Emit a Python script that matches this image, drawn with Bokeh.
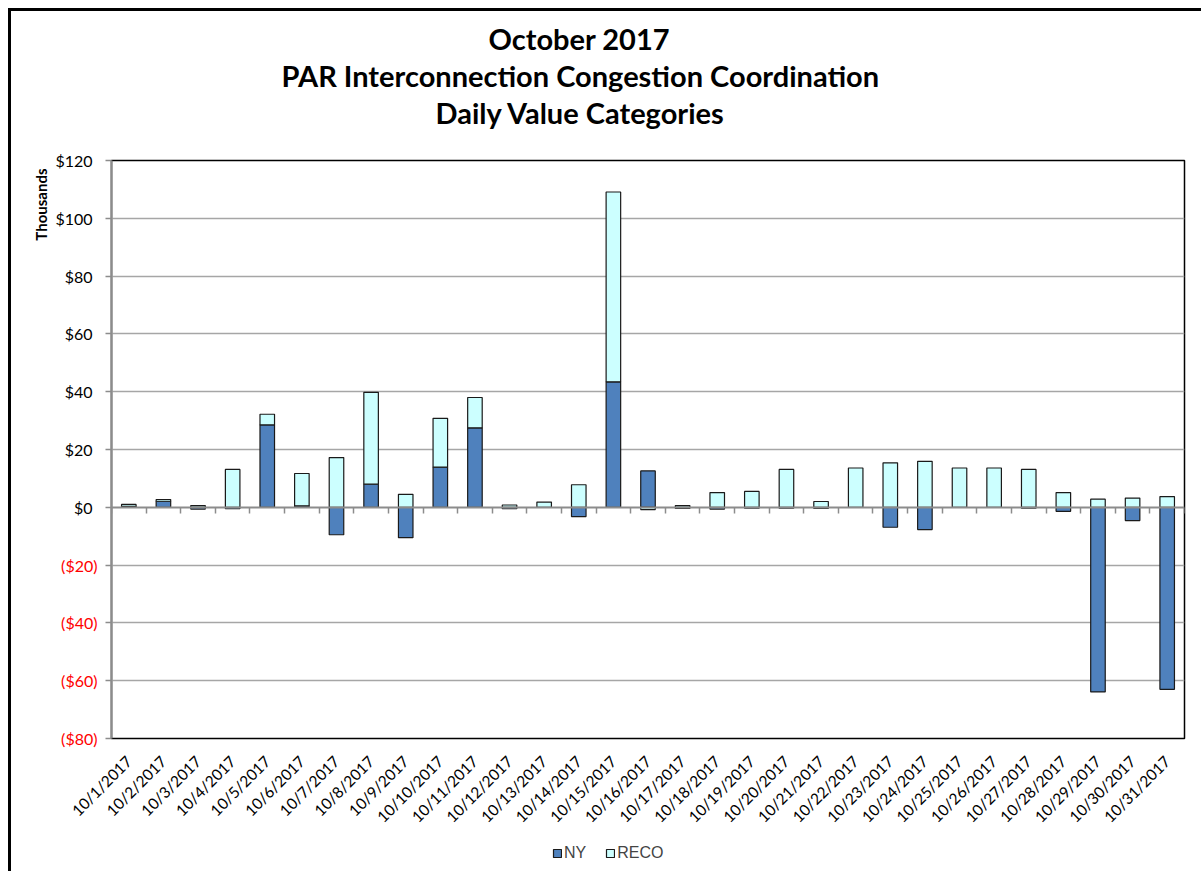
from math import pi
from bokeh.plotting import figure
from bokeh.layouts import column
from bokeh.models import (Range1d, LinearAxis, FixedTicker, Grid, Title,
                          ColumnDataSource, Legend, LegendItem)
from bokeh.embed import file_html
from bokeh.resources import INLINE

dates = ["10/%d/2017" % d for d in range(1, 32)]
ny = [0.3, 2.1, -0.6, -0.5, 28.5, 0.5, -9.5, 8.0, -10.5, 13.9, 27.5, -0.5, 0.0, -3.2,
      43.4, 12.6, -0.4, -0.6, -0.3, -0.3, -0.4, 0.0, -6.9, -7.7, 0.0, 0.0, -0.3, -1.4,
      -63.9, -4.6, -63.0]
reco = [0.7, 0.6, 0.6, 13.1, 3.7, 11.2, 17.2, 31.8, 4.5, 16.9, 10.5, 0.8, 1.8, 7.8,
        65.7, -0.8, 0.6, 5.1, 5.5, 13.1, 2.0, 13.6, 15.4, 15.9, 13.6, 13.6, 13.1, 5.1,
        2.8, 3.2, 3.7]
y_ticks = [-80, -60, -40, -20, 0, 20, 40, 60, 80, 100, 120]
title_lines = ["October 2017", "PAR Interconnection Congestion Coordination",
               "Daily Value Categories"]
series_names = ["NY", "RECO"]
series_colors = ["#4F81BD", "#CCFFFF"]

xs = list(range(1, len(dates) + 1))
ny_bottom = [min(v, 0) for v in ny]
ny_top = [max(v, 0) for v in ny]
reco_bottom, reco_top = [], []
for n, r in zip(ny, reco):
    if r >= 0:
        b = max(n, 0)
        reco_bottom.append(b); reco_top.append(b + r)
    else:
        t = min(n, 0)
        reco_bottom.append(t + r); reco_top.append(t)

src = ColumnDataSource(dict(x=xs, nyb=ny_bottom, nyt=ny_top, rb=reco_bottom, rt=reco_top))

p = figure(width=1190, height=827, output_backend="svg", toolbar_location=None,
           x_range=Range1d(0.5, len(dates) + 0.5), y_range=Range1d(-80, 120),
           x_axis_location=None, y_axis_location=None,
           min_border_left=100, min_border_top=149, min_border_right=17, min_border_bottom=100)
p.background_fill_color = "white"
p.border_fill_color = "white"
p.outline_line_color = "black"
p.outline_line_width = 1.5
for g in p.grid:
    g.grid_line_color = None
p.title.text = ""

GRAY = "#8c8c8c"
grid = Grid(dimension=1, ticker=FixedTicker(ticks=[t for t in y_ticks if t not in (0, -80, 120)]),
            grid_line_color="#a6a6a6", grid_line_width=1.5)
p.add_layout(grid, "center")

# bars
r_ny = p.vbar(x="x", bottom="nyb", top="nyt", width=0.42, source=src,
              fill_color=series_colors[0], line_color="#1a1a1a", line_width=1.2)
r_reco = p.vbar(x="x", bottom="rb", top="rt", width=0.42, source=src,
                fill_color=series_colors[1], line_color="#1a1a1a", line_width=1.2)

# bottom labels axis
xlab = LinearAxis(ticker=FixedTicker(ticks=xs),
                  major_label_overrides={x: d for x, d in zip(xs, dates)},
                  major_tick_line_color=None, axis_line_color=None,
                  major_label_orientation=pi / 4,
                  major_label_text_font="Lato", major_label_text_font_size="15.5px",
                  major_label_text_color="black", major_label_standoff=14,
                  minor_tick_line_color=None)
p.add_layout(xlab, "below")

# zero axis with category boundary ticks
zero_ax = LinearAxis(fixed_location=0,
                     ticker=FixedTicker(ticks=[], minor_ticks=[x + 0.5 for x in [0] + xs]),
                     axis_line_color=GRAY, axis_line_width=2,
                     minor_tick_line_color=GRAY, minor_tick_line_width=1.5,
                     minor_tick_out=6, minor_tick_in=0,
                     major_tick_line_color=None, major_label_text_font_size="0px")
p.add_layout(zero_ax, "below")

def fmt(v):
    return "$%d" % v if v >= 0 else "($%d)" % (-v)

# inner left axis: positive labels in black
yax = LinearAxis(ticker=FixedTicker(ticks=y_ticks),
                 major_label_overrides={v: (fmt(v) if v >= 0 else "") for v in y_ticks},
                 axis_line_color=GRAY, axis_line_width=2,
                 major_tick_line_color=GRAY, major_tick_line_width=1.5,
                 major_tick_out=6, major_tick_in=0, minor_tick_line_color=None,
                 major_label_text_font="Lato", major_label_text_font_size="16px",
                 major_label_text_color="black", major_label_standoff=13)
p.add_layout(yax, "left")

# outer left axis: negative labels in red, pulled back under the inner axis labels
yneg = LinearAxis(ticker=FixedTicker(ticks=y_ticks),
                  major_label_overrides={v: (fmt(v) if v < 0 else "") for v in y_ticks},
                  axis_line_color=None, major_tick_line_color=None,
                  major_tick_out=0, major_tick_in=0, minor_tick_line_color=None,
                  major_label_text_font="Lato", major_label_text_font_size="16px",
                  major_label_text_color="#FF0000", major_label_standoff=-45)
p.add_layout(yneg, "left")

p.add_layout(Title(text="Thousands", align="right", text_font="Lato",
                   text_font_style="bold", text_font_size="15px", text_color="black",
                   standoff=6, offset=8), "left")

# spacer between the plot frame and the title block (near-invisible tick)
p.add_layout(LinearAxis(ticker=FixedTicker(ticks=[31.5]), major_label_overrides={31.5: ""},
                        major_tick_out=31, major_tick_in=0,
                        major_tick_line_color="white", major_tick_line_alpha=0.01,
                        major_tick_line_width=1,
                        axis_line_color=None, minor_tick_line_color=None,
                        major_label_standoff=0, major_label_text_font_size="0px"), "above")

# titles (added nearest-first), centred at the chart's centre
title_offsets = [377, 170, 324]
for line, off in reversed(list(zip(title_lines, title_offsets))):
    p.add_layout(Title(text=line, align="left", offset=off, text_font="Lato",
                       text_font_style="bold", text_font_size="29px",
                       text_color="black", standoff=0), "above")

# legend strip below the chart (renderers share the data but sit outside its view)
leg = figure(width=1190, height=33, output_backend="svg", toolbar_location=None,
             x_range=p.x_range, y_range=Range1d(1000, 1001),
             x_axis_location=None, y_axis_location=None,
             min_border_left=0, min_border_right=0, min_border_top=0, min_border_bottom=0)
leg.outline_line_color = None
leg.background_fill_color = "white"
leg.border_fill_color = "white"
for g in leg.grid:
    g.grid_line_color = None
l_ny = leg.vbar(x="x", bottom="nyb", top="nyt", width=0.42, source=src,
                fill_color=series_colors[0], line_color="#1a1a1a", line_width=1.2)
l_reco = leg.vbar(x="x", bottom="rb", top="rt", width=0.42, source=src,
                  fill_color=series_colors[1], line_color="#1a1a1a", line_width=1.2)
legend = Legend(items=[LegendItem(label=series_names[0], renderers=[l_ny]),
                       LegendItem(label=series_names[1], renderers=[l_reco])],
                orientation="horizontal", location=(441, 9),
                glyph_width=10, glyph_height=10, label_standoff=2, spacing=19,
                padding=0, margin=0, border_line_color=None, background_fill_alpha=0,
                label_text_font="Liberation Sans", label_text_font_size="16px",
                label_height=16)
leg.add_layout(legend, "center")

layout = column(p, leg, spacing=0,
                styles={"margin-left": "8px", "margin-top": "8px",
                        "border-left": "3px solid black", "border-top": "3px solid black"})

open("out.html", "w").write(file_html(layout, INLINE))
